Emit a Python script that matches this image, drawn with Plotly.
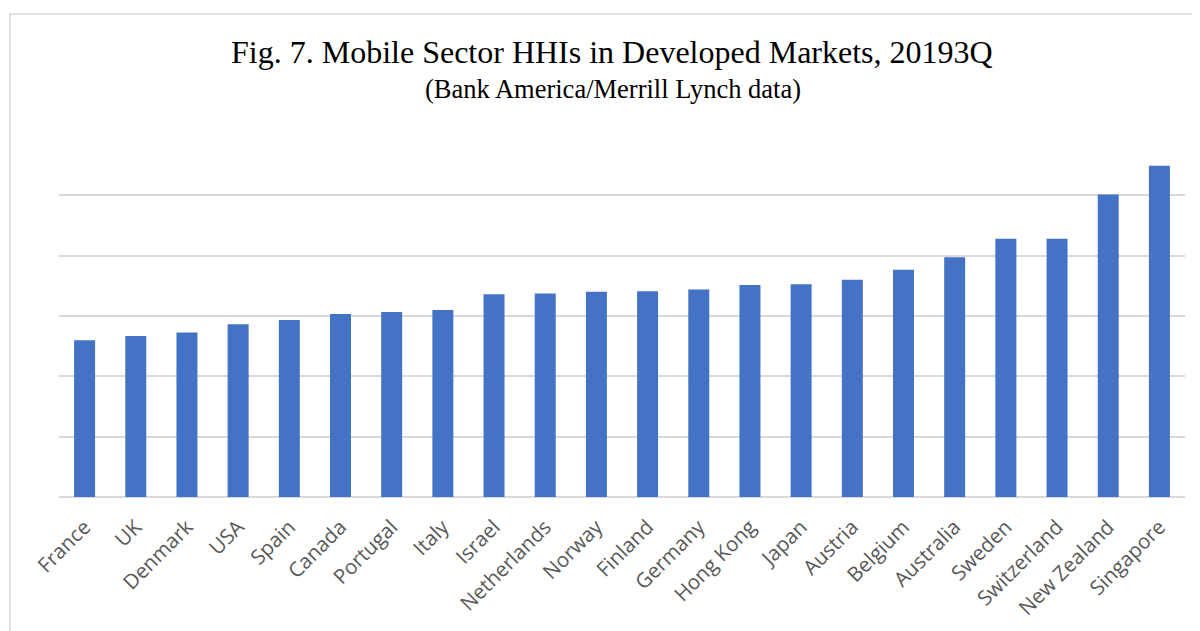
import plotly.graph_objects as go

countries = ["France", "UK", "Denmark", "USA", "Spain", "Canada", "Portugal", "Italy",
             "Israel", "Netherlands", "Norway", "Finland", "Germany", "Hong Kong", "Japan",
             "Austria", "Belgium", "Australia", "Sweden", "Switzerland", "New Zealand", "Singapore"]
hhi = [2600, 2670, 2725, 2865, 2935, 3035, 3065, 3100,
       3360, 3375, 3400, 3410, 3440, 3515, 3525,
       3600, 3765, 3975, 4280, 4280, 5015, 5490]

title_text = "Fig. 7. Mobile Sector HHIs in Developed Markets, 20193Q"
subtitle_text = "(Bank America/Merrill Lynch data)"

# page body has an 8px default margin; figure is sized to fill the rest of the window
OFF = 8
W, H = 1200 - OFF, 631 - OFF
L, T = 59 - OFF, 135 - OFF
R = W - (1185 - OFF)
B = H - (497 - OFF)
pw, ph = W - L - R, H - T - B

def px_x(x):
    return (x - OFF - L) / pw

def px_y(y):
    return (H - B - (y - OFF)) / ph

fig = go.Figure()
fig.add_trace(go.Bar(x=countries, y=hhi, marker=dict(color="#4472C4", line=dict(width=0)),
                     hoverinfo="x+y"))

fig.update_layout(
    width=W, height=H,
    margin=dict(l=L, r=R, t=T, b=B, autoexpand=False),
    paper_bgcolor="white", plot_bgcolor="white",
    bargap=0.59,
    showlegend=False,
    xaxis=dict(tickangle=-45, tickfont=dict(family="Open Sans", size=20.5, color="#595959"),
               ticklabelstandoff=13, automargin=False,
               showgrid=False, showline=False, ticks="", zeroline=False),
    yaxis=dict(range=[0, 6000], dtick=1000, showticklabels=False, gridcolor="#d9d9d9",
               gridwidth=1.5, zeroline=True, zerolinecolor="#d9d9d9", zerolinewidth=1.5,
               showline=False, ticks="", automargin=False),
    annotations=[
        dict(text=title_text, xref="paper", yref="paper", x=px_x(612), y=px_y(52),
             xanchor="center", yanchor="middle", showarrow=False,
             font=dict(family="Liberation Serif", size=32, color="#000000")),
        dict(text=subtitle_text, xref="paper", yref="paper", x=px_x(613), y=px_y(89),
             xanchor="center", yanchor="middle", showarrow=False,
             font=dict(family="Liberation Serif", size=26.5, color="#000000")),
    ],
    shapes=[
        dict(type="rect", xref="paper", yref="paper", x0=px_x(10), x1=px_x(1215),
             y0=px_y(645), y1=px_y(14), line=dict(color="#d9d9d9", width=1.5),
             fillcolor="rgba(0,0,0,0)", layer="below"),
    ],
)

fig.write_html("out.html")
